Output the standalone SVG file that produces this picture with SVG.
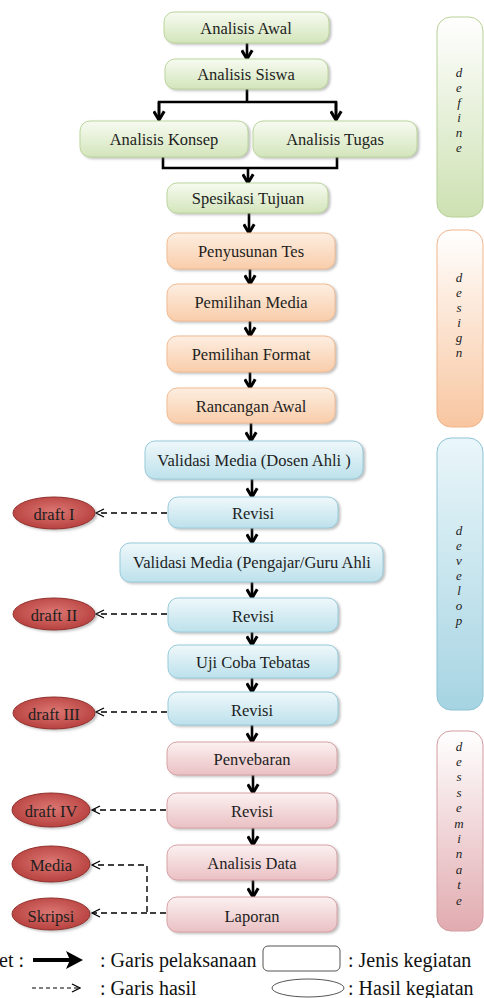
<svg xmlns="http://www.w3.org/2000/svg" width="484" height="998" viewBox="0 0 484 998">
<defs>
<linearGradient id="gG" x1="0" y1="0" x2="0" y2="1"><stop offset="0" stop-color="#f7fbf1"/><stop offset="1" stop-color="#d3e5bb"/></linearGradient>
<linearGradient id="gO" x1="0" y1="0" x2="0" y2="1"><stop offset="0" stop-color="#fdeee1"/><stop offset="1" stop-color="#f9cdaa"/></linearGradient>
<linearGradient id="gB" x1="0" y1="0" x2="0" y2="1"><stop offset="0" stop-color="#eff8fb"/><stop offset="1" stop-color="#bde1eb"/></linearGradient>
<linearGradient id="gP" x1="0" y1="0" x2="0" y2="1"><stop offset="0" stop-color="#fcf1f1"/><stop offset="1" stop-color="#eac0c3"/></linearGradient>
<linearGradient id="sG" x1="0" y1="0" x2="0" y2="1"><stop offset="0" stop-color="#ffffff"/><stop offset="1" stop-color="#cde1b2"/></linearGradient>
<linearGradient id="sO" x1="0" y1="0" x2="0" y2="1"><stop offset="0" stop-color="#ffffff"/><stop offset="1" stop-color="#f8c6a0"/></linearGradient>
<linearGradient id="sB" x1="0" y1="0" x2="0" y2="1"><stop offset="0" stop-color="#eaf6fa"/><stop offset="1" stop-color="#a6d4e2"/></linearGradient>
<linearGradient id="sP" x1="0" y1="0" x2="0" y2="1"><stop offset="0" stop-color="#ffffff"/><stop offset="1" stop-color="#e1abb0"/></linearGradient>
<radialGradient id="gR" cx="0.5" cy="0.45" r="0.6"><stop offset="0" stop-color="#dc7773"/><stop offset="1" stop-color="#b43d3a"/></radialGradient>
<filter id="sh" x="-10%" y="-20%" width="125%" height="150%"><feDropShadow dx="2" dy="1.5" stdDeviation="1" flood-color="#777" flood-opacity="0.45"/></filter>
<marker id="ah" viewBox="0 0 12 12" refX="10" refY="6" markerWidth="13" markerHeight="13" markerUnits="userSpaceOnUse" orient="auto"><path d="M2,1.2 L10,6 L2,10.8" fill="none" stroke="#000" stroke-width="2.8" stroke-linejoin="miter"/></marker>
<marker id="ad" viewBox="0 0 10 10" refX="9" refY="5" markerWidth="10" markerHeight="10" markerUnits="userSpaceOnUse" orient="auto"><path d="M1,1 L9,5 L1,9" fill="none" stroke="#000" stroke-width="1.3"/></marker>
<style>
.t{font-family:"Liberation Serif","Times New Roman",serif;font-size:16.5px;fill:#1e1e1e;text-anchor:middle;dominant-baseline:central}
.g rect{fill:url(#gG);stroke:#bcd59d;stroke-width:1}
.o rect{fill:url(#gO);stroke:#f0bb93;stroke-width:1}
.b rect{fill:url(#gB);stroke:#98cbdb;stroke-width:1}
.p rect{fill:url(#gP);stroke:#d8a2a6;stroke-width:1}
.nd rect{filter:url(#sh)}
.el ellipse{fill:url(#gR);stroke:#93302d;stroke-width:1;filter:url(#sh)}
.bar rect{stroke-width:1}
.lt{font-family:"Liberation Serif","Times New Roman",serif;font-size:13px;font-style:italic;fill:#222;text-anchor:middle;dominant-baseline:central}
.s{fill:none;stroke:#000;stroke-width:2.6}
.sa{fill:none;stroke:#000;stroke-width:2.6;marker-end:url(#ah)}
.da{fill:none;stroke:#000;stroke-width:1.4;stroke-dasharray:6 4;marker-end:url(#ad)}
.lg{font-family:"Liberation Serif","Times New Roman",serif;font-size:20px;fill:#111}
</style>
</defs>
<rect width="484" height="998" fill="#fff"/>

<!-- side bars -->
<g id="bar-define" class="bar"><rect x="437" y="17" width="46" height="200" rx="14" fill="url(#sG)" stroke="#b7d197"/>
<text class="lt" x="459" y="72">d</text><text class="lt" x="459" y="87">e</text><text class="lt" x="459" y="102">f</text><text class="lt" x="459" y="117">i</text><text class="lt" x="459" y="132">n</text><text class="lt" x="459" y="147">e</text></g>
<g id="bar-design" class="bar"><rect x="437" y="230" width="46" height="197" rx="14" fill="url(#sO)" stroke="#efb489"/>
<text class="lt" x="459" y="277">d</text><text class="lt" x="459" y="292">e</text><text class="lt" x="459" y="307">s</text><text class="lt" x="459" y="322">i</text><text class="lt" x="459" y="337">g</text><text class="lt" x="459" y="352">n</text></g>
<g id="bar-develop" class="bar"><rect x="437" y="438" width="46" height="272" rx="14" fill="url(#sB)" stroke="#8cc3d5"/>
<text class="lt" x="459" y="530">d</text><text class="lt" x="459" y="545">e</text><text class="lt" x="459" y="560">v</text><text class="lt" x="459" y="575">e</text><text class="lt" x="459" y="590">l</text><text class="lt" x="459" y="605">o</text><text class="lt" x="459" y="620">p</text></g>
<g id="bar-dessiminate" class="bar"><rect x="437" y="731" width="46" height="200" rx="14" fill="url(#sP)" stroke="#d39ca1"/>
<text class="lt" x="459" y="746">d</text><text class="lt" x="459" y="761.4">e</text><text class="lt" x="459" y="776.8">s</text><text class="lt" x="459" y="792.2">s</text><text class="lt" x="459" y="807.6">e</text><text class="lt" x="459" y="823">m</text><text class="lt" x="459" y="838.4">i</text><text class="lt" x="459" y="853.8">n</text><text class="lt" x="459" y="869.2">a</text><text class="lt" x="459" y="884.6">t</text><text class="lt" x="459" y="900">e</text></g>

<!-- connectors -->
<g id="connectors">
<line class="sa" x1="247" y1="43" x2="247" y2="59"/>
<line class="s" x1="247" y1="89" x2="247" y2="102"/>
<polyline class="s" points="159,118 159,102 336,102 336,118"/>
<line class="sa" x1="159" y1="102" x2="159" y2="120"/>
<line class="sa" x1="336" y1="102" x2="336" y2="120"/>
<polyline class="s" points="163,157 163,168 337,168 337,157"/>
<line class="sa" x1="248" y1="168" x2="248" y2="183"/>
<line class="sa" x1="249" y1="213" x2="249" y2="233"/>
<line class="sa" x1="250" y1="269" x2="250" y2="284"/>
<line class="sa" x1="250" y1="321" x2="250" y2="336"/>
<line class="sa" x1="250" y1="372" x2="250" y2="388"/>
<line class="sa" x1="251" y1="423" x2="251" y2="441"/>
<line class="sa" x1="252" y1="479" x2="252" y2="497"/>
<line class="sa" x1="252" y1="528" x2="252" y2="543"/>
<line class="sa" x1="252" y1="582" x2="252" y2="598"/>
<line class="sa" x1="252" y1="632" x2="252" y2="645"/>
<line class="sa" x1="252" y1="678" x2="252" y2="692"/>
<line class="sa" x1="252" y1="725" x2="252" y2="742"/>
<line class="sa" x1="253" y1="775" x2="253" y2="793"/>
<line class="sa" x1="253" y1="828" x2="253" y2="845"/>
<line class="sa" x1="253" y1="880" x2="253" y2="897"/>
<line class="da" x1="167" y1="513" x2="96" y2="513"/>
<line class="da" x1="167" y1="614" x2="96" y2="614"/>
<line class="da" x1="167" y1="712" x2="96" y2="712"/>
<line class="da" x1="166" y1="810" x2="92" y2="810"/>
<polyline class="da" points="166,913 147,913 147,865 92,865"/>
<line class="da" x1="147" y1="913" x2="92" y2="913"/>
</g>

<!-- define -->
<g id="n-analisis-awal" class="nd g"><rect x="164" y="12" width="165" height="31" rx="10"/><text class="t" x="246" y="28">Analisis Awal</text></g>
<g id="n-analisis-siswa" class="nd g"><rect x="165" y="59" width="163" height="30" rx="10"/><text class="t" x="246" y="74">Analisis Siswa</text></g>
<g id="n-analisis-konsep" class="nd g"><rect x="80" y="121" width="168" height="36" rx="10"/><text class="t" x="164" y="139">Analisis Konsep</text></g>
<g id="n-analisis-tugas" class="nd g"><rect x="253" y="121" width="164" height="36" rx="10"/><text class="t" x="335" y="139">Analisis Tugas</text></g>
<g id="n-spesikasi-tujuan" class="nd g"><rect x="167" y="183" width="161" height="30" rx="10"/><text class="t" x="248" y="198">Spesikasi Tujuan</text></g>

<!-- design -->
<g id="n-penyusunan-tes" class="nd o"><rect x="167" y="233" width="168" height="36" rx="10"/><text class="t" x="251" y="251">Penyusunan Tes</text></g>
<g id="n-pemilihan-media" class="nd o"><rect x="167" y="284" width="168" height="37" rx="10"/><text class="t" x="251" y="302">Pemilihan Media</text></g>
<g id="n-pemilihan-format" class="nd o"><rect x="167" y="336" width="168" height="36" rx="10"/><text class="t" x="251" y="354">Pemilihan Format</text></g>
<g id="n-rancangan-awal" class="nd o"><rect x="167" y="388" width="168" height="35" rx="10"/><text class="t" x="251" y="406">Rancangan Awal</text></g>

<!-- develop -->
<g id="n-validasi-dosen" class="nd b"><rect x="145" y="441" width="218" height="38" rx="10"/><text class="t" x="254" y="460">Validasi Media (Dosen Ahli )</text></g>
<g id="n-revisi-1" class="nd b"><rect x="168" y="497" width="170" height="31" rx="10"/><text class="t" x="253" y="513">Revisi</text></g>
<g id="n-validasi-guru" class="nd b"><rect x="120" y="543" width="263" height="39" rx="10"/><text class="t" x="252" y="562">Validasi Media (Pengajar/Guru Ahli</text></g>
<g id="n-revisi-2" class="nd b"><rect x="168" y="598" width="170" height="34" rx="10"/><text class="t" x="253" y="616">Revisi</text></g>
<g id="n-uji-coba" class="nd b"><rect x="168" y="645" width="170" height="33" rx="10"/><text class="t" x="253" y="662">Uji Coba Tebatas</text></g>
<g id="n-revisi-3" class="nd b"><rect x="168" y="692" width="170" height="33" rx="10"/><text class="t" x="252" y="710">Revisi</text></g>

<!-- disseminate -->
<g id="n-penyebaran" class="nd p"><rect x="167" y="742" width="170" height="33" rx="10"/><text class="t" x="252" y="759">Penvebaran</text></g>
<g id="n-revisi-4" class="nd p"><rect x="167" y="793" width="170" height="35" rx="10"/><text class="t" x="252" y="811">Revisi</text></g>
<g id="n-analisis-data" class="nd p"><rect x="167" y="845" width="170" height="35" rx="10"/><text class="t" x="252" y="863">Analisis Data</text></g>
<g id="n-laporan" class="nd p"><rect x="167" y="897" width="170" height="35" rx="10"/><text class="t" x="252" y="916">Laporan</text></g>

<!-- results -->
<g id="r-draft1" class="el"><ellipse cx="54" cy="513" rx="41" ry="16"/><text class="t" x="54" y="514">draft I</text></g>
<g id="r-draft2" class="el"><ellipse cx="54" cy="614" rx="41" ry="16"/><text class="t" x="54" y="615">draft II</text></g>
<g id="r-draft3" class="el"><ellipse cx="54" cy="713" rx="41" ry="16"/><text class="t" x="54" y="714">draft III</text></g>
<g id="r-draft4" class="el"><ellipse cx="51" cy="810" rx="39" ry="17"/><text class="t" x="51" y="811">draft IV</text></g>
<g id="r-media" class="el"><ellipse cx="51" cy="864" rx="39" ry="18"/><text class="t" x="51" y="865">Media</text></g>
<g id="r-skripsi" class="el"><ellipse cx="51" cy="914" rx="39" ry="16"/><text class="t" x="51" y="916">Skripsi</text></g>

<!-- legend -->
<g id="legend">
<text class="lg" x="-1" y="967">et :</text>
<line x1="33" y1="960" x2="70" y2="960" stroke="#000" stroke-width="4"/>
<polygon points="66,951 83,960 66,969 70,960" fill="#000"/>
<text class="lg" x="100" y="967">: Garis pelaksanaan</text>
<rect x="263" y="946" width="77" height="25" rx="5" fill="#fff" stroke="#555" stroke-width="1"/>
<text class="lg" x="348" y="967">: Jenis kegiatan</text>
<line x1="32" y1="988" x2="80" y2="988" stroke="#000" stroke-width="1" stroke-dasharray="4 3" marker-end="url(#ad)"/>
<text class="lg" x="100" y="995">: Garis hasil</text>
<ellipse cx="308" cy="988" rx="36" ry="9" fill="#fff" stroke="#555" stroke-width="1"/>
<text class="lg" x="348" y="995">: Hasil kegiatan</text>
</g>
</svg>
